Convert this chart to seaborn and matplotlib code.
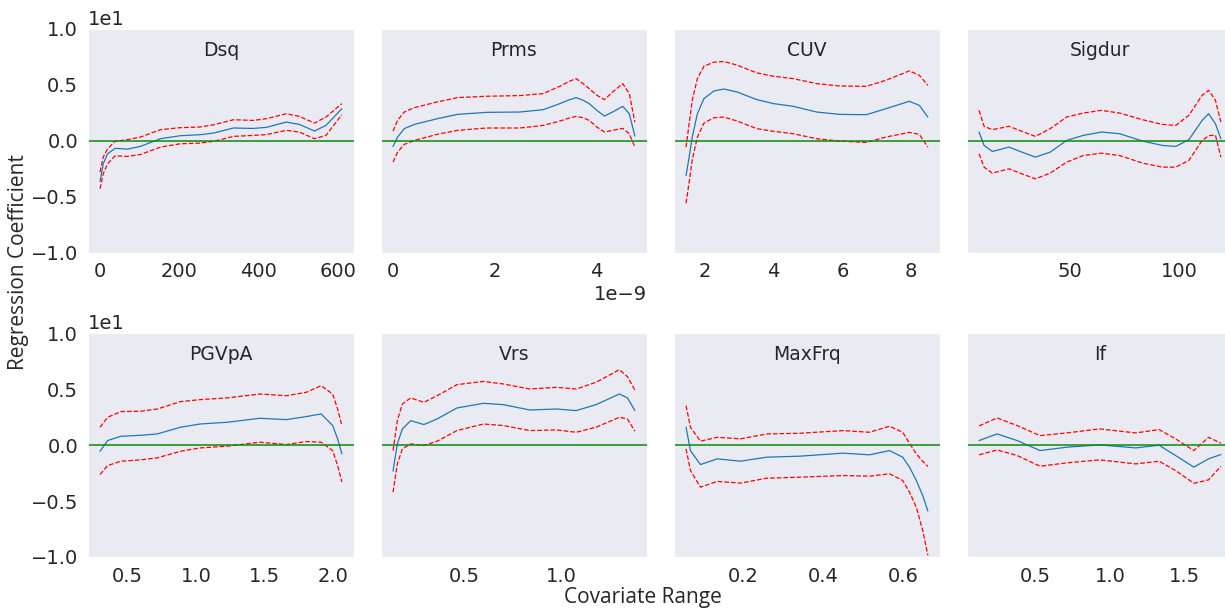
import matplotlib
matplotlib.use("Agg")
import matplotlib.pyplot as plt
from matplotlib.ticker import MultipleLocator
import seaborn as sns

sns.set_style("dark")
plt.rcParams["font.family"] = ["DejaVu Sans"]

# panel names, in reading order
names = ["Dsq", "Prms", "CUV", "Sigdur", "PGVpA", "Vrs", "MaxFrq", "If"]

# values (y in data units, axis shown as x1e1)
dsq_x = [0, 8, 19, 38, 69, 102, 152, 202, 252, 286, 336, 386, 419, 469, 502, 540, 569, 609]
dsq_mean = [-3.65, -2.06, -1.17, -0.68, -0.75, -0.5, 0.18, 0.45, 0.54, 0.69, 1.14, 1.1, 1.2, 1.67, 1.46, 0.87, 1.37, 2.87]
dsq_upper = [-2.8, -1.46, -0.72, -0.05, 0.1, 0.33, 0.99, 1.17, 1.23, 1.43, 1.88, 1.82, 1.97, 2.42, 2.18, 1.58, 2.12, 3.32]
dsq_lower = [-4.3, -2.96, -2.06, -1.35, -1.4, -1.23, -0.57, -0.27, -0.21, -0.05, 0.39, 0.48, 0.55, 0.93, 0.78, 0.18, 0.48, 2.33]

prms_x = [0.0, 0.09e-9, 0.22e-9, 0.42e-9, 0.87e-9, 1.27e-9, 1.85e-9, 2.50e-9, 2.96e-9, 3.29e-9,
          3.45e-9, 3.61e-9, 3.75e-9, 3.87e-9, 4.02e-9, 4.17e-9, 4.33e-9, 4.53e-9, 4.66e-9, 4.77e-9]
prms_mean = [-0.51, 0.33, 1.08, 1.46, 1.97, 2.36, 2.54, 2.57, 2.78, 3.32,
             3.62, 3.86, 3.62, 3.32, 2.72, 2.21, 2.57, 3.08, 2.42, 0.42]
prms_upper = [0.87, 1.82, 2.57, 2.96, 3.47, 3.86, 3.98, 4.04, 4.22, 4.87,
              5.26, 5.56, 5.11, 4.66, 4.07, 3.68, 4.36, 5.11, 4.22, 1.67]
prms_lower = [-1.91, -1.02, -0.33, 0.03, 0.57, 0.93, 1.14, 1.14, 1.37, 1.76,
              2.0, 2.18, 2.06, 1.82, 1.23, 0.78, 0.93, 1.11, 0.63, -0.57]

cuv_x = [1.45, 1.54, 1.63, 1.78, 1.97, 2.26, 2.55, 2.94, 3.51, 4.0, 4.57, 5.25, 5.92, 6.70, 7.27, 7.95, 8.24, 8.49]
cuv_mean = [-3.11, -1.46, 0.33, 2.42, 3.77, 4.45, 4.63, 4.36, 3.68, 3.32, 3.08, 2.57, 2.36, 2.33, 2.87, 3.53, 3.17, 2.12]
cuv_upper = [-0.57, 1.52, 3.62, 5.56, 6.67, 7.03, 7.09, 6.76, 6.07, 5.77, 5.56, 5.11, 4.90, 4.87, 5.41, 6.25, 5.86, 4.96]
cuv_lower = [-5.59, -3.71, -1.70, 0.33, 1.58, 2.06, 2.12, 1.76, 1.08, 0.84, 0.63, 0.18, -0.03, -0.15, 0.33, 0.75, 0.57, -0.57]

sigdur_x = [8.3, 10.6, 14.4, 22.0, 28.0, 34.1, 40.9, 48.5, 56.1, 64.4, 72.7, 83.3, 92.4, 98.5, 104.5, 110.6, 113.6, 116.7, 119.2]
sigdur_mean = [0.78, -0.42, -0.96, -0.57, -1.02, -1.46, -1.02, 0.03, 0.48, 0.78, 0.63, -0.03, -0.42, -0.51, 0.09, 1.82, 2.42, 1.52, 0.18]
sigdur_upper = [2.72, 1.29, 0.99, 1.29, 0.84, 0.39, 1.08, 2.12, 2.48, 2.72, 2.48, 1.88, 1.46, 1.37, 2.27, 4.07, 4.51, 3.62, 1.67]
sigdur_lower = [-1.17, -2.36, -2.90, -2.51, -2.96, -3.41, -2.90, -1.91, -1.32, -1.11, -1.32, -2.00, -2.36, -2.36, -1.76, 0.03, 0.45, 0.5, -1.46]

pgvpa_x = [0.30, 0.355, 0.452, 0.596, 0.717, 0.886, 1.03, 1.223, 1.464, 1.657, 1.801, 1.91, 1.994, 2.03, 2.061]
pgvpa_mean = [-0.54, 0.42, 0.80, 0.89, 1.01, 1.61, 1.90, 2.05, 2.41, 2.29, 2.56, 2.80, 1.76, 0.57, -0.77]
pgvpa_upper = [1.61, 2.50, 3.01, 3.04, 3.24, 3.90, 4.08, 4.23, 4.58, 4.43, 4.73, 5.33, 4.58, 3.24, 1.76]
pgvpa_lower = [-2.62, -1.82, -1.43, -1.31, -1.13, -0.54, -0.24, -0.09, 0.27, 0.06, 0.33, 0.27, -0.48, -1.82, -3.30]

vrs_x = [0.133, 0.155, 0.181, 0.224, 0.292, 0.360, 0.462, 0.599, 0.701, 0.838, 0.974, 1.077, 1.179, 1.299, 1.341, 1.379]
vrs_mean = [-2.32, 0.12, 1.46, 2.20, 1.85, 2.35, 3.33, 3.75, 3.63, 3.15, 3.24, 3.10, 3.63, 4.58, 4.23, 3.10]
vrs_upper = [-0.48, 2.20, 3.69, 4.23, 3.84, 4.43, 5.42, 5.71, 5.48, 5.03, 5.18, 5.03, 5.63, 6.76, 6.13, 4.94]
vrs_lower = [-4.20, -1.67, -0.33, 0.12, -0.03, 0.36, 1.31, 1.90, 1.76, 1.31, 1.37, 1.16, 1.61, 2.50, 2.35, 1.25]

maxfrq_x = [0.056, 0.067, 0.092, 0.134, 0.192, 0.258, 0.341, 0.449, 0.515, 0.565, 0.598, 0.615, 0.632, 0.648, 0.661]
maxfrq_mean = [1.61, -0.48, -1.73, -1.22, -1.43, -1.07, -0.98, -0.71, -0.86, -0.48, -1.07, -1.96, -3.15, -4.49, -5.89]
maxfrq_upper = [3.54, 1.61, 0.36, 0.71, 0.57, 1.01, 1.07, 1.31, 1.16, 1.70, 1.16, 0.18, -0.77, -1.43, -1.90]
maxfrq_lower = [-0.33, -2.26, -3.75, -3.24, -3.39, -2.95, -2.86, -2.71, -2.77, -2.56, -3.15, -4.20, -5.54, -7.62, -9.85]

if_x = [0.125, 0.246, 0.379, 0.533, 0.710, 0.930, 1.173, 1.328, 1.438, 1.560, 1.659, 1.741]
if_mean = [0.42, 1.01, 0.42, -0.48, -0.18, 0.03, -0.24, 0.0, -0.92, -1.96, -1.22, -0.83]
if_upper = [1.73, 2.44, 1.76, 0.86, 1.10, 1.46, 1.10, 1.40, 0.57, -0.48, 0.71, 0.18]
if_lower = [-0.86, -0.42, -0.92, -1.88, -1.58, -1.31, -1.67, -1.43, -2.26, -3.40, -3.10, -1.88]

# x tick spacing per panel
tick_steps = [200, 2e-9, 2, 50, 0.5, 0.5, 0.2, 0.5]

panels = [
    (dsq_x, dsq_mean, dsq_upper, dsq_lower),
    (prms_x, prms_mean, prms_upper, prms_lower),
    (cuv_x, cuv_mean, cuv_upper, cuv_lower),
    (sigdur_x, sigdur_mean, sigdur_upper, sigdur_lower),
    (pgvpa_x, pgvpa_mean, pgvpa_upper, pgvpa_lower),
    (vrs_x, vrs_mean, vrs_upper, vrs_lower),
    (maxfrq_x, maxfrq_mean, maxfrq_upper, maxfrq_lower),
    (if_x, if_mean, if_upper, if_lower),
]

fig, axes = plt.subplots(2, 4, figsize=(12.25, 6.1), dpi=100, sharey=True)
fig.subplots_adjust(left=0.0718, right=1.0065, bottom=0.0869, top=0.9525,
                    wspace=0.1015, hspace=0.362)

for ax, name, (x, mean, upper, lower), step in zip(axes.flat, names, panels, tick_steps):
    sns.lineplot(x=x, y=upper, ax=ax, color="red", lw=0.9, linestyle="--", sort=False)
    sns.lineplot(x=x, y=lower, ax=ax, color="red", lw=0.9, linestyle="--", sort=False)
    sns.lineplot(x=x, y=mean, ax=ax, color="#1f77b4", lw=0.9, sort=False)
    ax.axhline(0, color="#0a8a0a", lw=1.1)
    ax.set_ylim(-10, 10)
    ax.xaxis.set_major_locator(MultipleLocator(step))
    ax.ticklabel_format(axis="y", style="sci", scilimits=(0, 0))
    ax.tick_params(labelsize=14)
    ax.yaxis.get_offset_text().set_fontsize(14)
    ax.xaxis.get_offset_text().set_fontsize(14)
    ax.text(0.5, 0.88, name, transform=ax.transAxes, ha="center", va="baseline",
            fontsize=13.5, color="#262626")

fig.text(0.015, 0.57, "Regression Coefficient", rotation=90, ha="center", va="center",
         fontsize=15, family="Open Sans")
fig.text(0.525, 0.02, "Covariate Range", ha="center", va="center",
         fontsize=15, family="Open Sans")

fig.savefig("out.png", dpi=100)
